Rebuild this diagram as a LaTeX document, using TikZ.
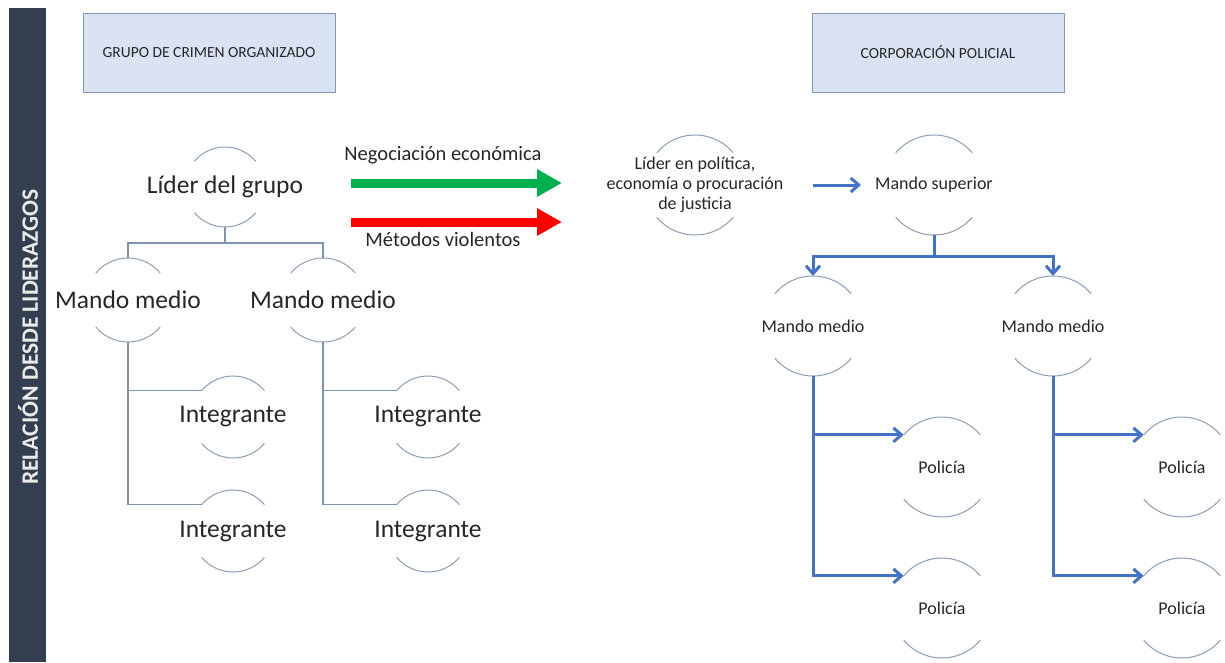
\documentclass[tikz,border=0pt]{standalone}
\usepackage{fontspec}
\setmainfont{Carlito}
\usetikzlibrary{arrows.meta}
\definecolor{barc}{HTML}{333F50}
\definecolor{boxfill}{HTML}{DAE3F3}
\definecolor{boxline}{HTML}{8497B0}
\definecolor{arcc}{HTML}{8C9DB5}
\definecolor{thinc}{HTML}{7F93AE}
\definecolor{blu}{HTML}{4472C4}
\definecolor{grn}{HTML}{00B050}
\definecolor{txt}{HTML}{262626}
\tikzset{
  arcline/.style={draw=arcc, line width=1pt},
  thinline/.style={draw=thinc, line width=1.2pt},
  bluline/.style={draw=blu, line width=3pt, -{Straight Barb[length=8pt,width=14pt,line width=3pt]}},
  bluplain/.style={draw=blu, line width=3pt},
  headbox/.style={draw=boxline, fill=boxfill, line width=1pt, minimum width=252pt, minimum height=79pt, font=\fontsize{15.5}{17}\selectfont, text=txt},
  fatarrow/.style={line width=9pt, -{Triangle[length=25pt,width=26pt]}},
}
\newcommand\arcnode[6]{%
  \node[font=#5, align=center, inner sep=0pt, text=txt] (#1) at (#2,-#3) {#6};
  \coordinate (#1-c) at (#2,-#3);
  \coordinate (#1-t) at ([yshift=#4pt]#1-c);
  \coordinate (#1-b) at ([yshift=-#4pt]#1-c);
  \coordinate (#1-tl) at ([shift={(140:#4pt)}]#1-c);
  \draw[arcline] ([shift={(140:#4pt)}]#1-c) arc[start angle=140, end angle=40, radius=#4pt];
  \draw[arcline] ([shift={(220:#4pt)}]#1-c) arc[start angle=220, end angle=320, radius=#4pt];
}
\begin{document}
\begin{tikzpicture}[x=1pt,y=1pt]
\useasboundingbox (0,0) rectangle (1225,-662);
% sidebar
\fill[barc] (9,-8) rectangle (46,-662);
\node[rotate=90, text={black!8}, font=\bfseries\fontsize{23.5}{26}\selectfont] (side) at (28,-337) {RELACIÓN DESDE LIDERAZGOS};
% header boxes
\node[headbox] (h1) at (209,-52.5) {GRUPO DE CRIMEN ORGANIZADO};
\node[headbox] (h2) at (938,-52.5) {CORPORACIÓN POLICIAL};
% left tree
\def\big{\fontsize{25.5}{28}\selectfont}
\arcnode{lg}{225}{187}{40}{\big}{Líder del grupo}
\arcnode{m1}{128}{300}{42}{\big}{Mando medio}
\arcnode{m2}{323}{300}{42}{\big}{Mando medio}
\arcnode{i1}{233}{417}{41}{\big}{Integrante}
\arcnode{i2}{233}{531}{41}{\big}{Integrante}
\arcnode{i3}{428}{417}{41}{\big}{Integrante}
\arcnode{i4}{428}{531}{41}{\big}{Integrante}
\draw[thinline] (lg-b) -- ++(0,-16) -| (m1-t);
\draw[thinline] (lg-b) -- ++(0,-16) -| (m2-t);
\draw[thinline] (m1-b) |- (i1-tl);
\draw[thinline] (m1-b) |- (i2-tl);
\draw[thinline] (m2-b) |- (i3-tl);
\draw[thinline] (m2-b) |- (i4-tl);
% middle
\def\mid{\fontsize{18}{20}\selectfont}
\arcnode{lp}{695}{185}{50}{\mid}{Líder en política,\\economía o procuración\\de justicia}
\coordinate (g0) at (351,-183);
\coordinate (r0) at (351,-222);
\draw[fatarrow, draw=grn, fill=grn] (g0) -- ([xshift=-133pt]lp-c |- g0);
\draw[fatarrow, draw=red, fill=red] (r0) -- ([xshift=-133pt]lp-c |- r0);
\node[font=\fontsize{20.5}{22}\selectfont, text=txt] (neg) at (443,-155) {Negociación económica};
\node[font=\fontsize{20.5}{22}\selectfont, text=txt] (vio) at (443,-239) {Métodos violentos};
% right tree
\arcnode{ms}{934}{185}{50}{\mid}{Mando superior}
\arcnode{r1}{813}{326}{50}{\mid}{Mando medio}
\arcnode{r2}{1053}{326}{50}{\mid}{Mando medio}
\arcnode{p1}{942}{467}{50}{\mid}{Policía}
\arcnode{p2}{942}{608}{50}{\mid}{Policía}
\arcnode{p3}{1182}{467}{50}{\mid}{Policía}
\arcnode{p4}{1182}{608}{50}{\mid}{Policía}
\draw[bluline] ([xshift=118pt]lp-c |- ms-c) -- ([xshift=-73pt]ms-c);
\draw[bluplain] (ms-b) -- ++(0,-21) coordinate (msj);
\draw[bluline] (msj) -| (r1-t);
\draw[bluline] (msj) -| (r2-t);
\draw[bluline] (r1-b) |- (p1-tl);
\draw[bluline] (r1-b) |- (p2-tl);
\draw[bluline] (r2-b) |- (p3-tl);
\draw[bluline] (r2-b) |- (p4-tl);
\end{tikzpicture}
\end{document}
